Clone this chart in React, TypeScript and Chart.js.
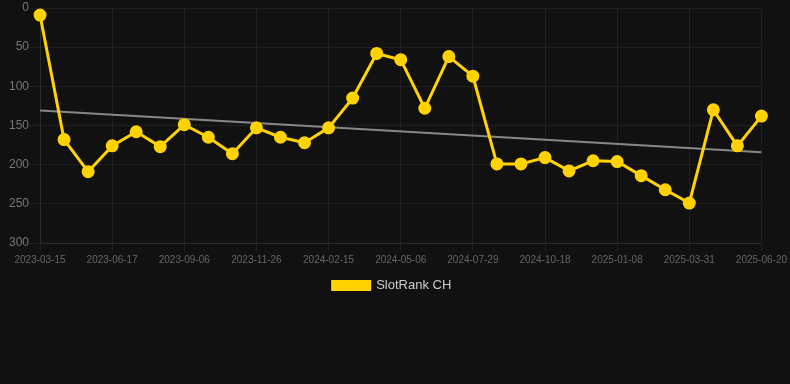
import React, { useEffect, useRef } from "react";
import { Chart, registerables } from "chart.js";

Chart.register(...registerables);

const dates: string[] = [
  "2023-03-15", "2023-04-15", "2023-05-16", "2023-06-17", "2023-07-14", "2023-08-10",
  "2023-09-06", "2023-10-03", "2023-10-30", "2023-11-26", "2023-12-23", "2024-01-19",
  "2024-02-15", "2024-03-13", "2024-04-09", "2024-05-06", "2024-06-03", "2024-07-01",
  "2024-07-29", "2024-08-25", "2024-09-21", "2024-10-18", "2024-11-14", "2024-12-12",
  "2025-01-08", "2025-02-04", "2025-03-04", "2025-03-31", "2025-04-27", "2025-05-24",
  "2025-06-20",
];

const rankCH: number[] = [
  9, 168, 209, 176, 158, 177, 149, 165, 186, 153, 165, 172, 153, 115, 58, 66,
  128, 62, 87, 199, 199, 191, 208, 195, 196, 214, 232, 249, 130, 176, 138,
];

// trend line endpoints (first and last date)
const trendEnds: number[] = [131, 184];

const yTicks: number[] = [0, 50, 100, 150, 200, 250, 300];

export default function App() {
  const ref = useRef<HTMLCanvasElement | null>(null);

  useEffect(() => {
    if (!ref.current) return;
    const trend = dates.map((_, i) =>
      i === 0 ? trendEnds[0] : i === dates.length - 1 ? trendEnds[1] : null
    );
    const chart = new Chart(ref.current, {
      type: "line",
      data: {
        labels: dates,
        datasets: [
          {
            label: "SlotRank CH",
            data: rankCH,
            borderColor: "#FFD200",
            backgroundColor: "#FFD200",
            borderWidth: 3,
            pointRadius: 5,
            pointBackgroundColor: "#FFD200",
            pointBorderColor: "#FFD200",
            tension: 0,
            order: 1,
          },
          {
            label: "trend",
            data: trend,
            borderColor: "#888888",
            borderWidth: 2,
            pointRadius: 0,
            spanGaps: true,
            order: 2,
          },
        ],
      },
      options: {
        responsive: false,
        animation: false,
        maintainAspectRatio: false,
        layout: { padding: { left: 9, right: 15, top: 0, bottom: 0 } },
        scales: {
          x: {
            offset: false,
            grid: { color: "rgba(255,255,255,0.06)", tickColor: "rgba(255,255,255,0.06)" },
            border: { color: "rgba(255,255,255,0.06)" },
            ticks: {
              color: "#666",
              font: { family: "Liberation Sans, Arial", size: 10 },
              autoSkip: true,
              maxTicksLimit: 11,
              maxRotation: 0,
            },
          },
          y: {
            reverse: true,
            min: 0,
            max: 300,
            afterBuildTicks: (axis: any) => {
              axis.ticks = yTicks.map((v) => ({ value: v }));
            },
            grid: {
              color: "rgba(255,255,255,0.06)",
              tickColor: "rgba(255,255,255,0.06)",
              tickLength: 11,
            },
            border: { color: "rgba(255,255,255,0.06)" },
            ticks: {
              color: "#777",
              padding: 0,
              font: { family: "Liberation Sans, Arial", size: 12, lineHeight: 0.85 },
            },
          },
        },
        plugins: {
          legend: {
            position: "bottom",
            labels: {
              color: "#ccc",
              font: { family: "Liberation Sans, Arial", size: 13 },
              boxWidth: 37,
              boxHeight: 8,
              filter: (item: any) => item.text !== "trend",
            },
          },
          tooltip: { enabled: false },
        },
      },
    });
    return () => chart.destroy();
  }, []);

  return (
    <div style={{ background: "#111111", width: 790, height: 384, margin: 0, position: "absolute", left: 0, top: 0 }}>
      <canvas ref={ref} width={790} height={302} style={{ display: "block" }} />
    </div>
  );
}
